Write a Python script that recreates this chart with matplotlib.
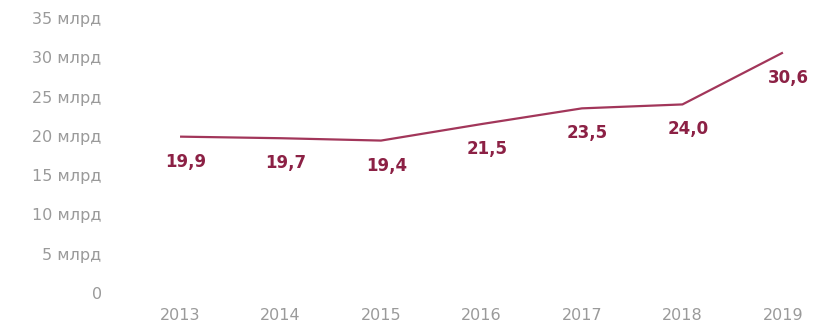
import numpy as np
import matplotlib.pyplot as plt

years = ['2013', '2014', '2015', '2016', '2017', '2018', '2019']
values = [19.9, 19.7, 19.4, 21.5, 23.5, 24.0, 30.6]
y_ticks = [0, 5, 10, 15, 20, 25, 30, 35]
y_tick_labels = ['0', '5 млрд', '10 млрд', '15 млрд', '20 млрд',
                 '25 млрд', '30 млрд', '35 млрд']

LINE_COLOR = '#a2365a'
LABEL_COLOR = '#8c2145'
TICK_COLOR = '#9a9a9a'

fig = plt.figure(figsize=(8.13, 3.23), dpi=100)
# axes box in figure fractions: left 110px, right 800px, bottom 30px, top 305px
ax = fig.add_axes([110 / 813, 30 / 323, 690 / 813, 275 / 323])

x = np.arange(len(years))
ax.plot(x, values, color=LINE_COLOR, lw=1.6, solid_capstyle='butt')

for xi, v in zip(x, values):
    ax.annotate(f'{v:.1f}'.replace('.', ','), (xi, v),
                xytext=(4, -18), textcoords='offset points',
                ha='center', va='center', fontsize=12, fontweight='bold',
                color=LABEL_COLOR)

ax.set_xlim(-0.697, 6.17)
ax.set_ylim(0, 35)
ax.set_xticks(x)
ax.set_xticklabels(years)
ax.set_yticks(y_ticks)
ax.set_yticklabels(y_tick_labels)
ax.tick_params(axis='both', length=0, colors=TICK_COLOR, labelsize=11.5)
ax.tick_params(axis='x', pad=11)
ax.tick_params(axis='y', pad=6)

for spine in ax.spines.values():
    spine.set_visible(False)

fig.savefig('out.png', dpi=100)
